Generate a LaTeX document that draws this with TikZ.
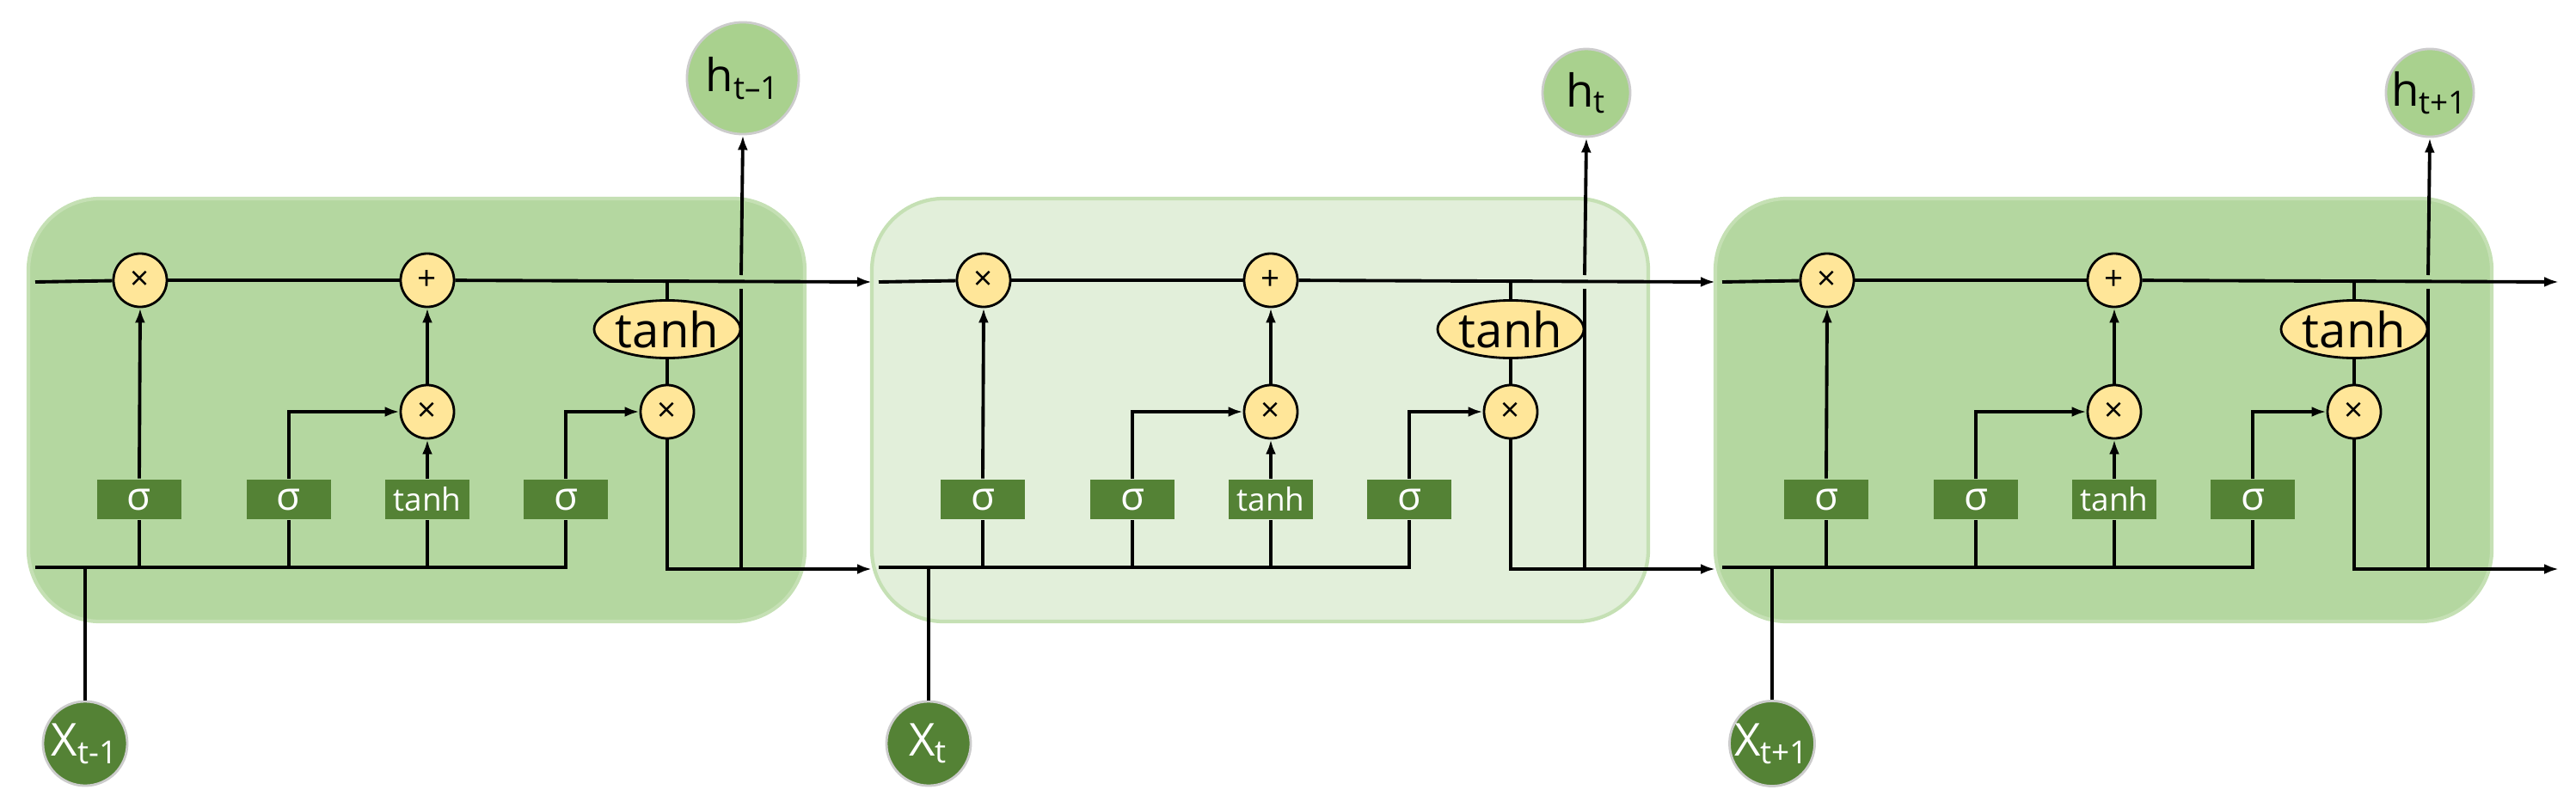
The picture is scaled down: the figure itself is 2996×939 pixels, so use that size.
\documentclass[tikz,border=0pt]{standalone}
\usepackage{fontspec}
\setmainfont{Open Sans}
\usetikzlibrary{shapes.geometric,arrows.meta}
\definecolor{opyellow}{RGB}{255,230,153}
\definecolor{gatedark}{RGB}{84,130,53}
\definecolor{hgreen}{RGB}{169,209,142}
\definecolor{celldark}{RGB}{180,215,160}
\definecolor{celllight}{RGB}{226,239,218}
\definecolor{cellborder}{RGB}{197,224,180}
\begin{document}
\begin{tikzpicture}[x=0.01cm,y=-0.01cm,line width=1.1pt,
  >={Latex[length=0.17cm,width=0.12cm]},
  op/.style={circle,draw=black,fill=opyellow,minimum size=0.62cm,inner sep=0pt,line width=0.8pt,font=\fontsize{11}{11}\selectfont},
  th/.style={ellipse,draw=black,fill=opyellow,minimum width=1.33cm,minimum height=0.67cm,inner sep=0pt,line width=0.8pt,font=\fontsize{16}{16}\selectfont},
  gate/.style={rectangle,fill=gatedark,text=white,minimum width=0.97cm,minimum height=0.45cm,inner sep=0pt,font=\fontsize{13}{13}\selectfont},
  gatet/.style={gate,font=\fontsize{10.5}{10.5}\selectfont},
  hnode/.style={circle,fill=hgreen,draw=black!20,line width=0.8pt,inner sep=0pt,font=\fontsize{15}{15}\selectfont},
  xnode/.style={circle,fill=gatedark,draw=black!20,line width=0.8pt,text=white,minimum size=0.98cm,inner sep=0pt,font=\fontsize{15}{15}\selectfont},
  cell/.style={rounded corners=0.83cm,draw=cellborder,line width=1.2pt}]
\useasboundingbox (0,0) rectangle (2996,939);
\foreach \i/\dx/\cf/\hy/\hs/\hl/\xl in {1/0/celldark/91/1.3cm/{t–1}/{t-1},2/981/celllight/108/1.02cm/{t}/{t},3/1962/celldark/108/1.02cm/{t+1}/{t+1}}{
\begin{scope}[shift={(\dx,0)}]
  \fill[cell,fill=\cf] (33,231) rectangle (936,723);
  \node[op] (f\i) at (163,326) {×};
  \node[op] (a\i) at (497,326) {+};
  \node[op] (m\i) at (497,479) {×};
  \node[op] (o\i) at (776,479) {×};
  \node[th] (t\i) at (776,383) {tanh};
  \node[gate] (ga\i) at (162,581) {σ};
  \node[gate] (gb\i) at (336,581) {σ};
  \node[gatet] (gc\i) at (497,581) {tanh};
  \node[gate] (gd\i) at (658,581) {σ};
  \node[hnode,minimum size=\hs] (h\i) at (864,\hy) {h\textsubscript{\hl}};
  \node[xnode] (x\i) at (99,865) {X\textsubscript{\xl}};
  \coordinate (cs\i) at (41,328);
  \coordinate (ce\i) at (1014,328);
  \coordinate (bs\i) at (41,660);
  \coordinate (be\i) at (1014,662);
  \coordinate (tj\i) at (776,328);
  \coordinate (hb\i) at (862,662);
  \coordinate (hm\i) at (862,336);
  \coordinate (hn\i) at (862,320);
  \coordinate (xj\i) at (99,660);
  \coordinate (ja\i) at (162,660);
  \coordinate (jb\i) at (336,660);
  \coordinate (jc\i) at (497,660);
  \draw (cs\i) -- (f\i);
  \draw (f\i) -- (a\i);
  \draw[->] (a\i) -- (ce\i);
  \draw (tj\i) -- (t\i);
  \draw (t\i) -- (o\i);
  \draw (bs\i) -| (gd\i.south);
  \draw (ga\i.south) -- (ja\i);
  \draw (gb\i.south) -- (jb\i);
  \draw (gc\i.south) -- (jc\i);
  \draw[->] (ga\i.north) -- (f\i.south);
  \draw[->] (gb\i.north) |- (m\i.west);
  \draw[->] (gc\i.north) -- (m\i.south);
  \draw[->] (m\i.north) -- (a\i.south);
  \draw[->] (gd\i.north) |- (o\i.west);
  \draw[->] (o\i.south) |- (be\i);
  \draw (hb\i) -- (hm\i);
  \draw[->] (hn\i) -- (h\i.south);
  \draw (x\i.north) -- (xj\i);
\end{scope}}
\end{tikzpicture}
\end{document}
